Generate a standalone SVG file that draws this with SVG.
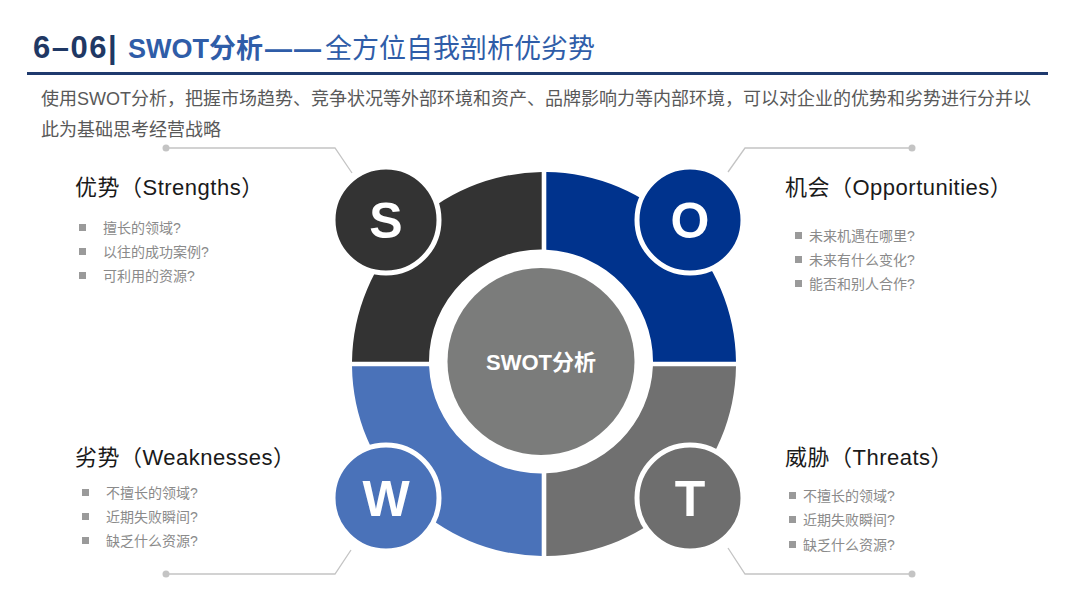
<svg xmlns="http://www.w3.org/2000/svg" width="1080" height="608" viewBox="0 0 1080 608">
<style>
text{font-family:"Liberation Sans","Noto Sans CJK SC",sans-serif}
.h{font-size:22px;fill:#1a1a1a;letter-spacing:0.5px}
.b{font-size:14px;fill:#8a8a8a}
.sq{fill:#9a9a9a}
.ln{fill:none;stroke:#c4c4c4;stroke-width:1.3}
.dot{fill:#c4c4c4}
.lc{stroke:#fff;stroke-width:5}
.lt{font-size:50px;font-weight:bold;fill:#fff;text-anchor:middle}
</style>
<rect width="1080" height="608" fill="#fff"/>
<g id="title">
<text x="33" y="58" font-size="27"><tspan x="33" fill="#1f3864" font-size="31" font-weight="bold" letter-spacing="1.5">6–06|</tspan><tspan x="128" fill="#2f5da8" font-weight="bold">SWOT分析</tspan><tspan fill="#2f5da8" font-weight="bold" dx="2" letter-spacing="2">——</tspan><tspan x="325" fill="#2f5da8">全方位自我剖析优劣势</tspan></text>
<rect x="27" y="72" width="1021" height="3" fill="#1f3a6e"/>
</g>
<g id="subtitle">
<text x="41" y="105" font-size="18" fill="#595959">使用SWOT分析，把握市场趋势、竞争状况等外部环境和资产、品牌影响力等内部环境，可以对企业的优势和劣势进行分并以</text>
<text x="41" y="136" font-size="18" fill="#595959">此为基础思考经营战略</text>
</g>
<g id="connectors">
<polyline class="ln" points="166,148 335,148 352,173"/>
<circle class="dot" cx="166" cy="148" r="3.5"/>
<polyline class="ln" points="912,148 745,148 728,172"/>
<circle class="dot" cx="912" cy="148" r="3.5"/>
<polyline class="ln" points="166,574 335,574 351,550"/>
<circle class="dot" cx="166" cy="574" r="3.5"/>
<polyline class="ln" points="912,574 745,574 728,548"/>
<circle class="dot" cx="912" cy="574" r="3.5"/>
</g>
<g id="quadrant-s"><path d="M541.7,172.01 A192,192 0 0 0 352.01,361.7 L429,361.7 A112,112 0 0 1 541.7,249.5 Z" fill="#333333"/></g>
<g id="quadrant-o"><path d="M546.3,172.01 A192,192 0 0 1 735.99,361.7 L653,361.7 A112,112 0 0 0 546.3,249.63 Z" fill="#00338d"/></g>
<g id="quadrant-w"><path d="M352.01,366.3 A192,192 0 0 0 541.7,555.99 L541.7,473.5 A112,112 0 0 1 429.1,366.3 Z" fill="#4a72b9"/></g>
<g id="quadrant-t"><path d="M546.3,555.99 A192,192 0 0 0 735.99,366.3 L652.9,366.3 A112,112 0 0 1 546.3,473.37 Z" fill="#707070"/></g>
<g id="center">
<circle cx="541" cy="361.5" r="93.5" fill="#7b7c7b"/>
<text x="541" y="370" font-size="22" font-weight="bold" fill="#fff" text-anchor="middle">SWOT分析</text>
</g>
<g id="node-s">
<circle class="lc" cx="386" cy="220" r="53" fill="#333333"/>
<text class="lt" x="386" y="238">S</text>
</g>
<g id="node-o">
<circle class="lc" cx="690" cy="220" r="53" fill="#00338d"/>
<text class="lt" x="690" y="238">O</text>
</g>
<g id="node-w">
<circle class="lc" cx="386" cy="498" r="53" fill="#4a72b9"/>
<text class="lt" x="386" y="516">W</text>
</g>
<g id="node-t">
<circle class="lc" cx="690" cy="498" r="53" fill="#6e6e6e"/>
<text class="lt" x="690" y="516">T</text>
</g>
<g id="text-s">
<text class="h" x="75" y="195">优势（Strengths）</text>
<rect class="sq" x="79" y="224" width="7" height="7"/><text class="b" x="103" y="233">擅长的领域?</text>
<rect class="sq" x="79" y="248" width="7" height="7"/><text class="b" x="103" y="257">以往的成功案例?</text>
<rect class="sq" x="79" y="272" width="7" height="7"/><text class="b" x="103" y="281">可利用的资源?</text>
</g>
<g id="text-o">
<text class="h" x="785" y="195">机会（Opportunities）</text>
<rect class="sq" x="795" y="232" width="7" height="7"/><text class="b" x="809" y="241">未来机遇在哪里?</text>
<rect class="sq" x="795" y="256" width="7" height="7"/><text class="b" x="809" y="265">未来有什么变化?</text>
<rect class="sq" x="795" y="280" width="7" height="7"/><text class="b" x="809" y="289">能否和别人合作?</text>
</g>
<g id="text-w">
<text class="h" x="75" y="465">劣势（Weaknesses）</text>
<rect class="sq" x="82" y="489" width="7" height="7"/><text class="b" x="106" y="498">不擅长的领域?</text>
<rect class="sq" x="82" y="513" width="7" height="7"/><text class="b" x="106" y="522">近期失败瞬间?</text>
<rect class="sq" x="82" y="537" width="7" height="7"/><text class="b" x="106" y="546">缺乏什么资源?</text>
</g>
<g id="text-t">
<text class="h" x="785" y="465">威胁（Threats）</text>
<rect class="sq" x="789" y="492" width="7" height="7"/><text class="b" x="803" y="501">不擅长的领域?</text>
<rect class="sq" x="789" y="516" width="7" height="7"/><text class="b" x="803" y="525">近期失败瞬间?</text>
<rect class="sq" x="789" y="541" width="7" height="7"/><text class="b" x="803" y="550">缺乏什么资源?</text>
</g>
</svg>
